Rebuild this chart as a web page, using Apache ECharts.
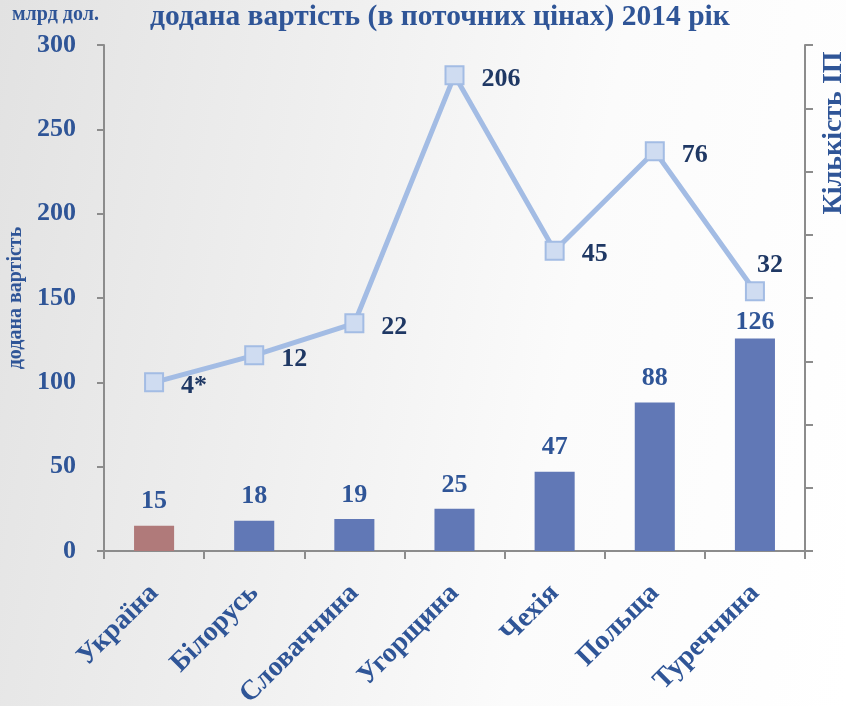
<!DOCTYPE html>
<html>
<head>
<meta charset="utf-8">
<script src="https://cdn.jsdelivr.net/npm/echarts@6/dist/echarts.min.js"></script>
<style>
html,body{margin:0;padding:0;}
body{width:846px;height:706px;background:linear-gradient(100deg,#e2e2e2 0%,#efefef 35%,#fbfbfb 65%,#ffffff 100%);}
#chart{width:846px;height:706px;}
</style>
</head>
<body>
<div id="chart"></div>
<script>
const categories = ['Україна','Білорусь','Словаччина','Угорщина','Чехія','Польща','Туреччина'];
const barValues = [15, 18, 19, 25, 47, 88, 126];
const lineValues = [100, 116, 135, 282, 178, 237, 154];
const lineLabels = ['4*','12','22','206','45','76','32'];
const leftTicks = {min:0, max:300, interval:50};

const FONT = '"Liberation Serif", "DejaVu Serif", serif';
const BLUE = '#2f5597';
const NAVY = '#1f3864';

const chart = echarts.init(document.getElementById('chart'), null, {renderer:'canvas'});

const barData = barValues.map((v,i)=>({
  value:v,
  itemStyle:{color: i===0 ? '#b07a7a' : '#6178b6'},
  label: i===6 ? {distance:3} : {distance:11}
}));
const lineData = lineValues.map((v,i)=>({
  value:v,
  label: i===6 ? {position:'top', offset:[15,2]} : {position:'right', offset:[12,4]}
}));

chart.setOption({
  backgroundColor:'transparent',
  animation:false,
  grid:{left:104, right:41, top:45, bottom:155, containLabel:false, outerBoundsMode:'none'},
  graphic:[
    {type:'text', left:12, top:5, style:{text:'млрд дол.', font:'bold 20px '+FONT, fill:BLUE}},
    {type:'text', left:150, top:2, style:{text:'додана вартість (в поточних цінах) 2014 рік', font:'bold 29.5px '+FONT, fill:BLUE}},
    {type:'text', x:834, y:133, rotation:Math.PI/2, style:{text:'Кількість ІП', font:'bold 28px '+FONT, fill:BLUE, align:'center', verticalAlign:'middle'}}
  ],
  xAxis:{
    type:'category',
    data:categories,
    axisLine:{lineStyle:{color:'#8c8c8c', width:2}},
    axisTick:{show:true, alignWithLabel:false, length:8, lineStyle:{color:'#8c8c8c', width:2}},
    axisLabel:{rotate:45, color:BLUE, fontFamily:FONT, fontWeight:'bold', fontSize:28, margin:38, interval:0}
  },
  yAxis:[
    {
      type:'value', min:leftTicks.min, max:leftTicks.max, interval:leftTicks.interval,
      name:'додана вартість', nameLocation:'middle', nameGap:72, nameRotate:90,
      nameTextStyle:{color:BLUE, fontFamily:FONT, fontWeight:'bold', fontSize:20},
      axisLine:{show:true, lineStyle:{color:'#8c8c8c', width:2}},
      axisTick:{show:true, length:7, lineStyle:{color:'#8c8c8c', width:2}},
      splitLine:{show:false},
      axisLabel:{color:BLUE, fontFamily:FONT, fontWeight:'bold', fontSize:26, margin:28}
    },
    {
      type:'value', min:0, max:300, interval:37.5, position:'right',
      axisLine:{show:true, lineStyle:{color:'#8c8c8c', width:2}},
      axisTick:{show:true, length:8, lineStyle:{color:'#8c8c8c', width:2}},
      splitLine:{show:false},
      axisLabel:{show:false}
    }
  ],
  series:[
    {
      type:'bar', data:barData, barWidth:'40%', yAxisIndex:0,
      label:{show:true, position:'top', color:BLUE, fontFamily:FONT, fontWeight:'bold', fontSize:26}
    },
    {
      type:'line', data:lineData, yAxisIndex:1,
      symbol:'rect', symbolSize:18,
      lineStyle:{color:'#a3bce4', width:5},
      itemStyle:{color:'#cfdcf1', borderColor:'#a3bce4', borderWidth:2},
      label:{show:true, color:NAVY, fontFamily:FONT, fontWeight:'bold', fontSize:26,
        formatter:p=>lineLabels[p.dataIndex]}
    }
  ]
});
</script>
</body>
</html>
